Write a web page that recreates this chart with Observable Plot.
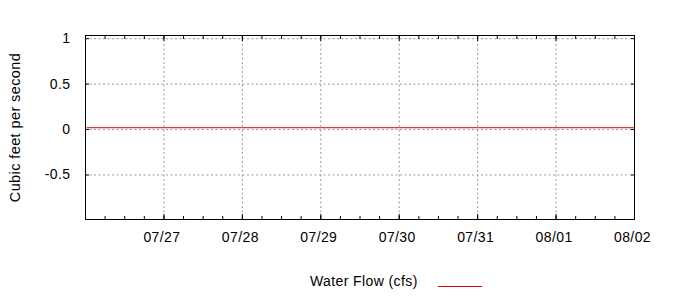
<!DOCTYPE html>
<html><head><meta charset="utf-8">
<script src="https://cdn.jsdelivr.net/npm/d3@7"></script>
<script src="https://cdn.jsdelivr.net/npm/@observablehq/plot@0.6"></script>
<style>
body{margin:0;background:#fff;font-family:"Liberation Sans",Arial,sans-serif;}
#wrap{width:700px;height:300px;}
#legend{display:block;}
</style></head>
<body><div id="wrap"><div id="chart"></div><div id="legend"></div></div>
<script>
const times = ["2024-07-26T00:30Z","2024-07-27T00:00Z","2024-07-28T00:00Z","2024-07-29T00:00Z","2024-07-30T00:00Z","2024-07-31T00:00Z","2024-08-01T00:00Z","2024-08-02T00:00Z"];
const flow = [0.02,0.02,0.02,0.02,0.02,0.02,0.02,0.02];
const xStart = "2024-07-26T00:00Z";
const xEnd = "2024-08-02T00:00Z";
const yTicks = [-0.5, 0, 0.5, 1];
const yDomain = [-0.99, 1.035];
const yTitle = "Cubic feet per second";
const seriesName = "Water Flow (cfs)";
const seriesColor = "#e00000";

const data = times.map((t, i) => ({date: new Date(t), value: flow[i]}));
const x0 = new Date(xStart), x1 = new Date(xEnd);
const dayTicks = d3.utcDay.range(d3.utcDay.offset(x0, 1), d3.utcDay.offset(x1, 1));
const minorTicks = d3.utcHour.every(6).range(x0, d3.utcHour.offset(x1, 1));
const fmt = d3.utcFormat("%m/%d");
const grid = {stroke: "#999", strokeOpacity: 1, strokeDasharray: "2,2.5"};

const plot = Plot.plot({
  width: 700, height: 255,
  marginLeft: 85, marginRight: 66, marginTop: 35, marginBottom: 36,
  style: {fontFamily: "Liberation Sans, Arial, sans-serif", fontSize: "14px", letterSpacing: "0.4px", color: "#000", background: "#fff"},
  x: {type: "utc", domain: [x0, x1]},
  y: {domain: yDomain},
  marks: [
    Plot.gridX(dayTicks, grid),
    Plot.gridY(yTicks, grid),
    Plot.axisX(dayTicks, {anchor: "bottom", tickSize: 0, tickPadding: 13, tickFormat: fmt, dx: -2, label: null}),
    Plot.axisX(minorTicks, {anchor: "bottom", tickSize: -3, tickFormat: () => "", label: null}),
    Plot.axisX(minorTicks, {anchor: "top", tickSize: -3, tickFormat: () => "", label: null}),
    Plot.axisX(dayTicks, {anchor: "bottom", tickSize: -5, tickFormat: () => "", label: null}),
    Plot.axisX(dayTicks, {anchor: "top", tickSize: -5, tickFormat: () => "", label: null}),
    Plot.axisY(yTicks, {anchor: "left", tickSize: -4, tickPadding: 19, tickFormat: d => String(d), label: null}),
    Plot.axisY(yTicks, {anchor: "right", tickSize: -4, tickFormat: () => "", label: null}),
    Plot.lineY(data, {x: "date", y: "value", stroke: seriesColor, strokeWidth: 1}),
    Plot.frame({stroke: "#000", strokeWidth: 1}),
    Plot.text([yTitle], {frameAnchor: "left", textAnchor: "middle", rotate: -90, dx: -70, fontSize: 14.5, letterSpacing: "0.7px"})
  ]
});
document.getElementById("chart").appendChild(plot);

const leg = d3.create("svg").attr("width", 700).attr("height", 45)
  .style("display", "block")
  .attr("font-family", "Liberation Sans, Arial, sans-serif").attr("font-size", 14);
leg.append("text").attr("x", 310).attr("y", 31).attr("letter-spacing", "0.4px").attr("fill", "#000").text(seriesName);
leg.append("line").attr("x1", 438).attr("x2", 482).attr("y1", 31.5).attr("y2", 31.5)
  .attr("stroke", seriesColor).attr("stroke-width", 1);
document.getElementById("legend").appendChild(leg.node());
</script>
</body></html>
